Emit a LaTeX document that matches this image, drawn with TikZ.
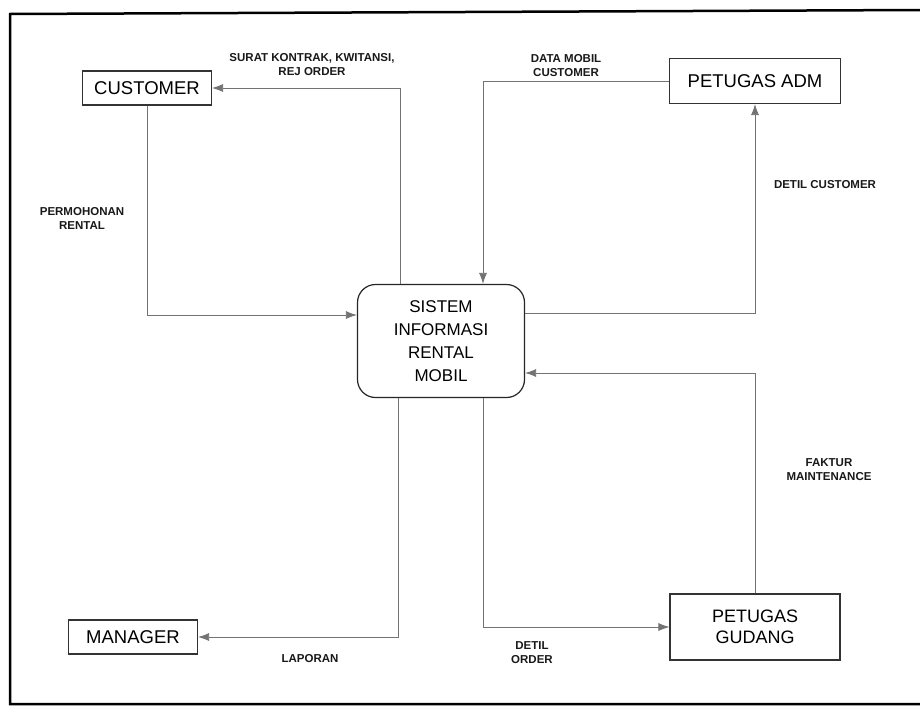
\documentclass[tikz,border=0pt]{standalone}
\usepackage{fontspec}
\setmainfont{Liberation Sans}
\usetikzlibrary{arrows.meta}
\begin{document}
\begin{tikzpicture}[x=1pt,y=-1pt,
  entity/.style={draw=black!80, line width=1.1pt, inner sep=0pt, align=center,
    font=\fontsize{18.5}{21}\selectfont},
  proc/.style={draw=black!85, line width=1.2pt, rounded corners=18pt, inner sep=0pt,
    align=center, minimum width=167pt, minimum height=113pt,
    font=\fontsize{17}{23}\selectfont},
  flow/.style={draw=black!55, line width=0.8pt, -{Latex[length=11pt,width=8pt]}},
  lbl/.style={font=\bfseries\fontsize{11.5}{14}\selectfont, align=center, text=black!90}]
\useasboundingbox (0,0) rectangle (920,707);
\fill[white] (0,0) rectangle (920,707);
\draw[line width=2.5pt] (920,10) -- (10,14) -- (10,704) -- (920,704);

\node[entity, minimum width=129pt, minimum height=34pt] (cust) at (147,88) {CUSTOMER};
\node[entity, minimum width=171pt, minimum height=45pt] (adm) at (755,81) {PETUGAS ADM};
\node[proc] (sis) at (441,341) {SISTEM\\INFORMASI\\RENTAL\\MOBIL};
\node[entity, minimum width=129pt, minimum height=34pt] (man) at (133,637) {MANAGER};
\node[entity, minimum width=170pt, minimum height=66pt, font=\fontsize{18}{21}\selectfont] (gud) at (755,627) {PETUGAS\\GUDANG};

\draw[flow] ([xshift=-41pt]sis.north) |- (cust.east);
\draw[flow] (cust.south) |- ([yshift=26pt]sis.west);
\draw[flow] (adm.west) -| ([xshift=42pt]sis.north);
\draw[flow] ([yshift=28pt]sis.east) -| (adm.south);
\draw[flow] (gud.north) |- ([yshift=-32pt]sis.east);
\draw[flow] ([xshift=42pt]sis.south) |- (gud.west);
\draw[flow] ([xshift=-43pt]sis.south) |- (man.east);

\node[lbl] (l1) at (312,65) {SURAT KONTRAK, KWITANSI,\\REJ ORDER};
\node[lbl] (l2) at (82,218) {PERMOHONAN\\RENTAL};
\node[lbl] (l3) at (566,66) {DATA MOBIL\\CUSTOMER};
\node[lbl] (l4) at (825,185) {DETIL CUSTOMER};
\node[lbl] (l5) at (829,470) {FAKTUR\\MAINTENANCE};
\node[lbl] (l6) at (532,653) {DETIL\\ORDER};
\node[lbl] (l7) at (310,659) {LAPORAN};
\end{tikzpicture}
\end{document}
